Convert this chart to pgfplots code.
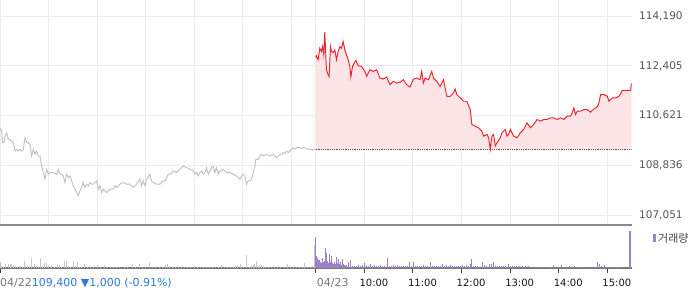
\documentclass[border=0pt]{standalone}
\usepackage{fontspec}
\setmainfont{DejaVu Sans}
\newfontfamily\krfont{Noto Sans CJK KR}
\usepackage{pgfplots}
\usepackage{pgfplotstable}
\pgfplotsset{compat=1.18}
\usepgfplotslibrary{fillbetween}
\definecolor{gridc}{HTML}{EBEBEB}
\definecolor{sepc}{HTML}{8A8A8A}
\definecolor{basec}{HTML}{7A7A7A}
\definecolor{tickc}{HTML}{444444}
\definecolor{labc}{HTML}{555555}
\definecolor{datec}{HTML}{777777}
\definecolor{timec}{HTML}{151515}
\definecolor{bluec}{HTML}{2B7BD9}
\definecolor{redc}{HTML}{F0202C}
\definecolor{redfill}{HTML}{FDE5E7}
\definecolor{grayline}{HTML}{C0C2C8}
\definecolor{dotc}{HTML}{5A5050}
\definecolor{volpurple}{HTML}{9A82C8}
\definecolor{volgray}{HTML}{C6C7CC}
\definecolor{legc}{HTML}{444444}
% 04/23 intraday price (x = hours since 04/22 09:00 on the trading-time axis)
\pgfplotstableread[row sep=\\]{
x y\\
6.500 112700\\ 6.514 112762\\ 6.548 112619\\ 6.583 113036\\ 6.617 112917\\ 6.638 113095\\ 6.665 112798\\ 6.686 113607\\ 6.720 112262\\ 6.755 112084\\ 6.775 112024\\ 6.803 113095\\ 6.823 112917\\ 6.858 112881\\ 6.892 112976\\ 6.927 112619\\ 6.961 112917\\ 6.996 113095\\ 7.030 113036\\ 7.064 113274\\ 7.099 112976\\ 7.133 112798\\ 7.168 112619\\ 7.202 112381\\ 7.223 112000\\ 7.257 112381\\ 7.291 112500\\ 7.326 112595\\ 7.374 112405\\ 7.443 112381\\ 7.512 112203\\ 7.546 112024\\ 7.615 112262\\ 7.684 112203\\ 7.753 112262\\ 7.821 111964\\ 7.890 111929\\ 7.959 112000\\ 8.028 111727\\ 8.097 111846\\ 8.166 111786\\ 8.234 111810\\ 8.303 111905\\ 8.372 111727\\ 8.441 111643\\ 8.510 111929\\ 8.578 111964\\ 8.647 111905\\ 8.682 112203\\ 8.716 111786\\ 8.751 111964\\ 8.819 111905\\ 8.888 112203\\ 8.923 111964\\ 8.991 111846\\ 9.060 111667\\ 9.129 111905\\ 9.198 111310\\ 9.267 111310\\ 9.336 111429\\ 9.370 111572\\ 9.404 111370\\ 9.473 111251\\ 9.542 111131\\ 9.611 111131\\ 9.680 110834\\ 9.714 110298\\ 9.783 110239\\ 9.852 110180\\ 9.921 110061\\ 9.955 109882\\ 10.024 109942\\ 10.058 109823\\ 10.093 109406\\ 10.127 109882\\ 10.161 109942\\ 10.196 109525\\ 10.230 109644\\ 10.299 109823\\ 10.333 110001\\ 10.368 110061\\ 10.402 110120\\ 10.437 109882\\ 10.471 109942\\ 10.506 110120\\ 10.574 109882\\ 10.643 109823\\ 10.712 110001\\ 10.781 110120\\ 10.850 110358\\ 10.918 110180\\ 10.987 110298\\ 11.056 110477\\ 11.125 110418\\ 11.194 110477\\ 11.263 110477\\ 11.331 110537\\ 11.400 110537\\ 11.469 110477\\ 11.538 110537\\ 11.607 110477\\ 11.676 110596\\ 11.744 110596\\ 11.779 110715\\ 11.813 110894\\ 11.848 110656\\ 11.882 110776\\ 11.951 110776\\ 12.020 110834\\ 12.089 110834\\ 12.157 110739\\ 12.226 110858\\ 12.295 110929\\ 12.329 111072\\ 12.364 111370\\ 12.433 111370\\ 12.501 111310\\ 12.536 111131\\ 12.605 111251\\ 12.674 111251\\ 12.742 111310\\ 12.777 111405\\ 12.811 111524\\ 12.880 111524\\ 12.983 111524\\ 12.997 111786\\
}\curdata
\begin{document}
\begin{tikzpicture}
% ---------------- price panel ----------------
\begin{axis}[
  at={(0pt,0pt)}, anchor=north west,
  scale only axis, width=631.5pt, height=225pt,
  xmin=0, xmax=13, ymin=106692, ymax=114764,
  scaled y ticks=false, scaled x ticks=false,
  axis x line*=bottom, axis y line*=right,
  x axis line style={draw=sepc, line width=1.5pt},
  y axis line style={draw=none},
  xtick={0,1,2,3,4,5,6,6.5,7.5,8.5,9.5,10.5,11.5,12.5},
  xticklabel=\empty,
  ytick={107051,108836,110621,112405,114190},
  yticklabels={{107,051},{108,836},{110,621},{112,405},{114,190}},
  major tick length=0pt,
  grid=major, grid style={draw=gridc, line width=1pt},
  yticklabel style={font=\fontsize{10.5}{12}\selectfont, text=labc, anchor=west, inner sep=0pt, xshift=7.5pt},
]
% 04/22 (previous day)
\addplot[grayline, line width=0.95pt] coordinates {
(0.000,110180)(0.034,110061)(0.055,109644)(0.082,109644)(0.103,109882)(0.137,110001)(0.171,109763)(0.206,109763)(0.240,109704)(0.274,109644)(0.309,109346)(0.343,109406)(0.377,109346)(0.412,109406)(0.446,109346)(0.480,109406)(0.514,109823)(0.549,109644)(0.583,109644)(0.617,109585)(0.652,109168)(0.686,109406)(0.720,109228)(0.754,109346)(0.789,109168)(0.823,109168)(0.857,108811)(0.892,108573)(0.926,108335)(0.960,108692)(0.995,108514)(1.029,108573)(1.097,108573)(1.166,108514)(1.200,108692)(1.235,108514)(1.269,108514)(1.303,108454)(1.337,108216)(1.372,108514)(1.406,108395)(1.440,108454)(1.475,108276)(1.509,108097)(1.543,107978)(1.578,107859)(1.612,107740)(1.646,107919)(1.680,108038)(1.715,108216)(1.749,108038)(1.783,108157)(1.818,108097)(1.852,108216)(1.886,108157)(1.920,108157)(1.955,108216)(1.989,108276)(2.023,107978)(2.058,108097)(2.092,107859)(2.126,107978)(2.160,107919)(2.195,107859)(2.229,107919)(2.263,107978)(2.332,107978)(2.366,108097)(2.401,108038)(2.469,108157)(2.538,108216)(2.606,108157)(2.675,108157)(2.743,108038)(2.812,108157)(2.881,108335)(2.915,108097)(2.949,108276)(2.984,108097)(3.018,108335)(3.052,108395)(3.086,108514)(3.121,108276)(3.155,108216)(3.224,108157)(3.292,108157)(3.361,108276)(3.395,108276)(3.464,108514)(3.498,108514)(3.567,108633)(3.635,108573)(3.704,108692)(3.772,108811)(3.841,108752)(3.909,108692)(3.978,108633)(4.012,108514)(4.047,108573)(4.081,108454)(4.115,108573)(4.150,108633)(4.184,108514)(4.218,108573)(4.252,108752)(4.287,108514)(4.321,108633)(4.355,108752)(4.390,108811)(4.424,108573)(4.458,108752)(4.492,108514)(4.527,108633)(4.595,108692)(4.664,108573)(4.733,108573)(4.801,108514)(4.870,108454)(4.904,108395)(4.938,108335)(4.973,108454)(5.007,108514)(5.041,108454)(5.075,108157)(5.110,108276)(5.144,108276)(5.178,108335)(5.213,108573)(5.247,108811)(5.267,109049)(5.316,109049)(5.350,109168)(5.384,109228)(5.418,109168)(5.487,109228)(5.556,109168)(5.624,109228)(5.693,109109)(5.727,109168)(5.761,109228)(5.796,109228)(5.830,109287)(5.864,109263)(5.898,109346)(5.933,109287)(5.967,109346)(6.001,109406)(6.036,109465)(6.070,109406)(6.104,109465)(6.173,109465)(6.207,109430)(6.241,109490)(6.310,109430)(6.379,109406)(6.502,109406)
};
% 04/23 area (fill down to previous close 109,400)
\addplot[name path=cur, draw=none] table {\curdata};
\addplot[name path=ref, draw=none] coordinates {(6.5,109400)(13,109400)};
\addplot[redfill, draw=none] fill between[of=cur and ref];
% previous close reference line
\addplot[dotc, densely dotted, line width=0.8pt] coordinates {(6.5,109400)(13,109400)};
% 04/23 price line
\addplot[redc, line width=0.95pt] table {\curdata};
\end{axis}
% ---------------- volume panel ----------------
\begin{axis}[
  at={(0pt,-225pt)}, anchor=north west,
  scale only axis, width=631.5pt, height=43pt,
  xmin=0, xmax=13, ymin=0, ymax=43,
  scaled y ticks=false, scaled x ticks=false,
  axis x line*=bottom, axis y line*=left,
  y axis line style={draw=none},
  x axis line style={draw=basec, line width=1.2pt},
  xtick={0,6.5,7.5,8.5,9.5,10.5,11.5,12.5},
  xticklabel=\empty,
  ytick=\empty,
  tick align=outside, major tick length=5pt,
  xtick style={draw=tickc, line width=1pt},
]
\addplot[ycomb, volgray, line width=1pt] coordinates {
(0.000,6)(0.041,2)(0.082,1.5)(0.123,4)(0.165,4)(0.206,4)(0.247,4)(0.288,3)(0.329,2)(0.370,1.5)(0.412,2)(0.453,1.5)(0.514,7)(0.556,2)(0.597,2)(0.658,10)(0.720,4)(0.761,2)(0.802,1.5)(0.844,10)(0.885,2)(0.926,5)(0.967,5)(1.008,2)(1.070,3)(1.132,1.5)(1.193,4)(1.235,3)(1.276,1.5)(1.337,7)(1.379,7)(1.420,2)(1.461,1.5)(1.523,7)(1.564,2)(1.605,6)(1.646,1.5)(1.687,1.5)(1.749,4)(1.811,1.5)(1.872,1.5)(1.934,1.5)(2.016,3)(2.078,1.5)(2.160,3)(2.222,1.5)(2.284,1.5)(2.346,1.5)(2.407,1.5)(2.469,1.5)(2.572,1.5)(2.634,1.5)(2.737,4)(2.798,1.5)(2.881,4)(2.942,1.5)(3.004,1.5)(3.086,5)(3.148,1.5)(3.210,1.5)(3.292,1.5)(3.354,1.5)(3.416,3.5)(3.457,4)(3.498,2)(3.560,1)(3.621,1)(3.683,1)(3.745,1)(3.807,1)(3.868,1)(3.930,1.5)(4.012,2)(4.074,1.5)(4.136,1)(4.198,1)(4.259,1)(4.321,1)(4.383,1.5)(4.444,1.5)(4.506,1)(4.568,3)(4.630,1.5)(4.691,1)(4.753,1)(4.815,1.5)(4.856,2)(4.897,3)(4.959,4)(5.021,1.5)(5.082,13)(5.144,1.5)(5.185,2)(5.226,3)(5.247,4)(5.288,7)(5.329,2)(5.350,3)(5.391,3)(5.432,2)(5.473,1.5)(5.535,1)(5.597,1)(5.658,1.5)(5.720,1)(5.782,1)(5.864,1.5)(5.926,4)(5.988,1.5)(6.049,1)(6.111,1.5)(6.173,1)(6.235,1.5)(6.276,5)(6.337,1)(6.399,1)(6.481,23)
};
\addplot[ycomb, volpurple, line width=1.3pt] coordinates {
(6.500,31)(6.521,12)(6.541,10)(6.562,8)(6.582,8)(6.603,6)(6.623,5)(6.644,10)(6.665,6)(6.685,7)(6.706,20)(6.726,15)(6.747,7)(6.767,5)(6.788,14)(6.809,6)(6.829,12)(6.850,5)(6.870,4)(6.891,6)(6.912,4)(6.932,11)(6.953,5)(6.973,9)(6.994,4)(7.014,6)(7.035,3)(7.056,9)(7.076,4)(7.097,3)(7.117,2)(7.138,3)(7.179,6)(7.220,8)(7.261,2)(7.302,2)(7.344,2)(7.385,3)(7.426,2)(7.467,3)(7.508,5)(7.549,3)(7.591,2)(7.632,4)(7.673,2)(7.714,3)(7.755,2)(7.796,2)(7.837,3)(7.879,2)(7.920,2)(7.981,10)(8.023,2)(8.064,2)(8.105,3)(8.146,2)(8.187,3)(8.228,2)(8.270,2)(8.311,2)(8.352,2)(8.393,2)(8.434,6)(8.475,2)(8.516,6)(8.558,2)(8.599,2)(8.640,2)(8.681,2)(8.722,3)(8.763,2)(8.805,2)(8.866,6)(8.907,2)(8.949,2)(8.990,2)(9.031,2)(9.072,2)(9.113,4)(9.154,2)(9.195,3)(9.237,2)(9.278,3)(9.319,2)(9.360,2)(9.401,2)(9.442,2)(9.484,2)(9.525,3)(9.566,2)(9.607,3)(9.648,2)(9.689,4)(9.710,9)(9.751,2)(9.792,2)(9.833,2)(9.874,1.5)(9.936,6)(9.977,3)(10.018,2)(10.080,4)(10.121,4)(10.163,6)(10.204,2)(10.245,2)(10.286,2)(10.327,2)(10.368,2)(10.409,2)(10.471,4)(10.512,2)(10.553,2)(10.595,2)(10.636,2)(10.698,2)(10.759,2)(10.821,2)(10.883,2)(10.944,1)(11.006,1)(11.068,1)(11.130,1)(11.191,1)(11.253,1)(11.315,1)(11.356,1)(11.397,3)(11.438,1)(11.479,1)(11.521,1)(11.562,3)(11.603,1)(11.665,1)(11.726,2)(11.788,1)(11.829,2)(11.891,1)(11.953,1)(12.014,1)(12.076,1)(12.138,1)(12.200,1)(12.261,1)(12.302,6)(12.344,4)(12.385,2)(12.447,3)(12.488,1.5)(12.529,1.5)(12.570,1.5)(12.611,1.5)(12.652,1.5)(12.693,1.5)(12.735,1.5)(12.776,1.5)(12.967,37)
};
\coordinate (d22) at (axis cs:0,0);
\coordinate (d23) at (axis cs:6.5,0);
\coordinate (t10) at (axis cs:7.5,0);
\coordinate (t11) at (axis cs:8.5,0);
\coordinate (t12) at (axis cs:9.5,0);
\coordinate (t13) at (axis cs:10.5,0);
\coordinate (t14) at (axis cs:11.5,0);
\coordinate (t15) at (axis cs:12.5,0);
\end{axis}
\node[anchor=base west, inner sep=0pt, font=\fontsize{11}{13}\selectfont, yshift=-18pt] at (d22)
  {\textcolor{datec}{04/22}\textcolor{bluec}{109,400 ▼1,000 (-0.91\%)}};
\node[anchor=base west, inner sep=0pt, font=\fontsize{11}{13}\selectfont, text=datec, yshift=-18pt, xshift=1pt] at (d23) {04/23};
\foreach \c/\lab in {t10/10:00, t11/11:00, t12/12:00, t13/13:00, t14/14:00, t15/15:00}{
  \node[anchor=base west, inner sep=0pt, font=\fontsize{10}{12}\selectfont, text=timec, yshift=-18pt, xshift=-5pt] at (\c) {\lab};
}
% legend
\fill[volpurple] (653pt,-234pt) rectangle (656pt,-242pt);
\node[anchor=west, inner sep=0pt, font=\krfont\fontsize{11}{13}\selectfont, text=legc] at (658pt,-238pt) {거래량};
\pgfresetboundingbox
\path[use as bounding box] (0pt,0pt) rectangle (700pt,-289pt);
\end{tikzpicture}
\end{document}
